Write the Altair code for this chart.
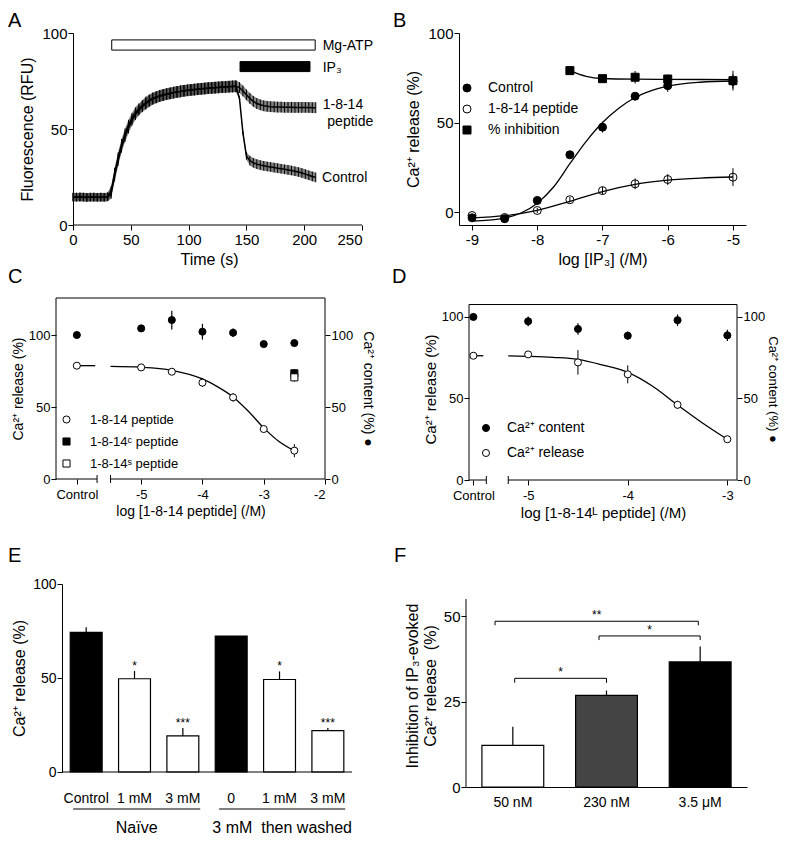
import altair as alt
import pandas as pd

FONT = "Liberation Sans"

# ---------------- Panel A data ----------------
a_time = list(range(0, 211, 3))
a_control = [14.6, 14.4, 14.7, 14.5, 14.3, 14.6, 14.5, 14.4, 14.6, 14.5, 14.7,
             17.5, 27.0, 35.0, 42.0, 47.5, 52.0, 55.5, 58.5, 60.5, 62.3,
             63.8, 65.0, 66.0, 66.7, 67.3, 67.8, 68.2, 68.6, 69.0, 69.3,
             69.6, 69.9, 70.1, 70.3, 70.5, 70.7, 70.9, 71.0, 71.2, 71.3,
             71.5, 71.6, 71.8, 71.9, 72.0, 72.1, 72.2,
             66.0, 48.0, 36.0, 33.5, 32.4, 31.7, 31.2, 30.8, 30.5, 30.2,
             29.9, 29.6, 29.3, 29.0, 28.7, 28.4, 28.0, 27.6, 27.1, 26.5,
             25.9, 25.3, 24.8]
a_peptide = [14.5, 14.6, 14.4, 14.6, 14.5, 14.4, 14.6, 14.5, 14.5, 14.4, 14.6,
             16.5, 25.5, 33.5, 40.5, 46.0, 50.5, 54.5, 57.5, 59.8, 61.6,
             63.2, 64.5, 65.6, 66.4, 67.1, 67.6, 68.1, 68.5, 68.9, 69.3,
             69.6, 69.9, 70.2, 70.4, 70.6, 70.8, 71.0, 71.2, 71.3, 71.5,
             71.6, 71.8, 71.9, 72.0, 72.1, 72.2, 72.3,
             71.6, 69.8, 67.8, 65.9, 64.4, 63.3, 62.6, 62.1, 61.8, 61.6,
             61.5, 61.4, 61.4, 61.3, 61.3, 61.3, 61.2, 61.2, 61.2, 61.2,
             61.2, 61.1, 61.1]
a_control_err = [2.2] * 11 + [2.8] * 10 + [3.0] * 27 + [1.0, 1.0, 2.0] + [2.5] * 20
a_peptide_err = [2.2] * 11 + [2.8] * 10 + [3.0] * 27 + [2.8] * 23
a_bar_start = [33.5, 144.5]
a_bar_end = [209.5, 205.0]
a_bar_low = [91.1, 79.9]
a_bar_high = [96.4, 85.1]
a_bar_fill = ["white", "black"]
a_label = ["Mg-ATP", "IP₃", "1-8-14", "peptide", "Control"]
a_label_x = [216, 216, 216, 220, 215.5]
a_label_y = [93.4, 81.8, 62.5, 53.5, 24.3]

# ---------------- Panel B data ----------------
b_series = ["Control", "1-8-14 peptide", "% inhibition"]
b_logc = [-9, -8.5, -8, -7.5, -7, -6.5, -6, -5]
b_control = [-3.2, -3.7, 6.5, 32.0, 47.4, 64.7, 70.6, 73.0]
b_control_err = [1.0, 1.0, 1.0, 1.5, 3.0, 2.0, 3.5, 4.0]
b_peptide = [-1.9, -3.0, 0.9, 6.9, 12.0, 15.8, 18.2, 19.5]
b_peptide_err = [1.0, 1.0, 1.5, 1.5, 2.0, 3.0, 3.0, 5.0]
b_inh_logc = [-7.5, -7, -6.5, -6, -5]
b_inhibition = [79.0, 74.5, 75.3, 74.3, 73.4]
b_inhibition_err = [1.0, 1.5, 3.5, 2.5, 5.5]
b_fit_control_x = [-9, -8.75, -8.5, -8.25, -8, -7.75, -7.5, -7.25, -7, -6.75, -6.5, -6.25, -6, -5.5, -5]
b_fit_control_y = [-5.0, -4.5, -3.3, -0.5, 5.0, 14.0, 27.0, 39.5, 50.0, 58.0, 64.0, 67.8, 70.3, 72.5, 73.2]
b_fit_peptide_x = [-9, -8.5, -8, -7.5, -7, -6.5, -6, -5.5, -5]
b_fit_peptide_y = [-3.2, -2.0, 1.0, 6.0, 11.5, 15.5, 17.8, 19.0, 19.6]
b_fit_inh_x = [-7.5, -7.25, -7, -6.5, -6, -5]
b_fit_inh_y = [79.0, 75.8, 74.6, 74.2, 74.1, 74.0]

# ---------------- Panel C data ----------------
c_series = ["1-8-14 peptide", "1-8-14ᶜ peptide", "1-8-14ˢ peptide"]
c_logc = [-6.05, -5, -4.5, -4, -3.5, -3, -2.5]
c_tick_values = [-6.05, -5, -4, -3, -2]
c_release = [78.7, 77.5, 74.5, 66.9, 56.7, 34.7, 19.7]
c_release_err = [1.0, 1.0, 1.0, 3.0, 3.0, 1.5, 4.5]
c_content = [100.0, 104.6, 110.4, 102.3, 101.6, 93.7, 94.4]
c_content_err = [1.0, 1.0, 6.5, 5.5, 3.0, 1.0, 1.0]
c_variant_logc = [-2.5, -2.5]
c_variant = [73.4, 70.6]
c_variant_err = [3.0, 3.0]
c_fit_x = [-5.5, -5, -4.5, -4, -3.75, -3.5, -3.25, -3, -2.75, -2.5]
c_fit_y = [78.2, 77.6, 75.5, 69.5, 64.0, 57.0, 47.0, 35.5, 26.0, 19.5]
c_stub_x = [-6.05, -5.75]
c_stub_y = [78.7, 78.7]
c_axis_segments = [(-6.39, -5.72), (-5.5, -2.0)]
c_breaks = [-5.72, -5.5]

# ---------------- Panel D data ----------------
d_series = ["Ca²⁺ content", "Ca²⁺ release"]
d_logc = [-5.55, -5, -4.5, -4, -3.5, -3]
d_tick_values = [-5.55, -5, -4, -3]
d_content = [100.0, 97.3, 92.6, 88.5, 98.0, 88.7]
d_content_err = [1.0, 3.0, 3.5, 2.5, 3.5, 3.5]
d_release = [76.2, 77.0, 72.1, 64.8, 46.1, 25.0]
d_release_err = [1.0, 1.0, 7.5, 5.5, 2.5, 1.0]
d_fit_x = [-5.2, -5, -4.75, -4.5, -4.25, -4, -3.75, -3.5, -3.25, -3]
d_fit_y = [76.1, 75.8, 75.2, 74.0, 70.5, 66.0, 57.5, 46.0, 35.0, 25.0]
d_stub_x = [-5.55, -5.45]
d_stub_y = [76.2, 76.2]
d_axis_segments = [(-5.594, -5.42), (-5.2, -2.903)]
d_breaks = [-5.42, -5.2]

# ---------------- Panel E data ----------------
e_cat = ["Control", "1 mM", "3 mM", "0", "1 mM ", "3 mM "]
e_value = [74.3, 49.6, 19.2, 72.3, 49.2, 22.0]
e_err = [2.7, 4.1, 4.2, 0.0, 4.3, 1.4]
e_fill = ["black", "white", "white", "black", "white", "white"]
e_star = ["", "*", "***", "", "*", "***"]
e_group = ["Naïve", "3 mM\u00a0 then washed"]
e_group_start = [0.23, 3.25]
e_group_end = [2.86, 5.86]

# ---------------- Panel F data ----------------
f_cat = ["50 nM", "230 nM", "3.5 μM"]
f_value = [12.2, 26.8, 36.6]
f_err = [5.4, 1.4, 4.5]
f_fill = ["white", "#444444", "black"]
f_br_start = [0.31, 1.42, 0.52]
f_br_end = [2.48, 2.5, 1.5]
f_br_level = [48.5, 44.2, 31.8]
f_br_leg = [1.2, 1.2, 1.3]
f_br_label = ["**", "*", "*"]


def letter(t, dx, dy):
    return alt.Chart(pd.DataFrame({"l": [t]})).mark_text(
        align="left", baseline="top", fontSize=20, font=FONT, color="black").encode(
        text="l:N", x=alt.value(dx), y=alt.value(dy))


# ================= Panel A =================
A_OFF = 17                      # y-axis sits inside the shared left-column origin
A_W, A_H = 306, 192
a_df = pd.DataFrame({
    "t": a_time + a_time,
    "v": a_control + a_peptide,
    "err": a_control_err + a_peptide_err,
    "trace": ["Control"] * len(a_time) + ["peptide"] * len(a_time),
})
a_df["lo"] = a_df["v"] - a_df["err"]
a_df["hi"] = a_df["v"] + a_df["err"]
a_xs = alt.Scale(domain=[-14.7, 250], nice=False)
a_ys = alt.Scale(domain=[0, 100], nice=False)
a_xax = alt.Axis(values=[0, 50, 100, 150, 200, 250], title="Time (s)", labelFontSize=15, titleFontSize=16,
                 domain=False, titlePadding=4)
a_yax = alt.Axis(values=[0, 50, 100], title="Fluorescence (RFU)", labelFontSize=15, titleFontSize=16,
                 offset=-A_OFF, labelPadding=1, titlePadding=6)
AX = lambda f: alt.X(f, scale=a_xs, axis=a_xax)
AY = lambda f: alt.Y(f, scale=a_ys, axis=a_yax)
a_base = alt.Chart(a_df)
a_band = a_base.mark_area(color="#333333", opacity=0.6).encode(x=AX("t:Q"), y=AY("lo:Q"), y2="hi:Q", detail="trace:N")
a_errs = a_base.mark_rule(color="black", strokeWidth=1).encode(x=AX("t:Q"), y=AY("lo:Q"), y2="hi:Q")
a_lines = a_base.mark_line(color="black", strokeWidth=1.5).encode(x=AX("t:Q"), y=AY("v:Q"), detail="trace:N")
a_axis_df = pd.DataFrame({"s": [0], "e": [250]})
a_xline = alt.Chart(a_axis_df).mark_rule(color="black", strokeWidth=1).encode(x=AX("s:Q"), x2="e:Q", y=alt.value(A_H))
a_bars_df = pd.DataFrame({"s": a_bar_start, "e": a_bar_end, "lo": a_bar_low, "hi": a_bar_high, "f": a_bar_fill})
a_bars = alt.Chart(a_bars_df).mark_rect(stroke="black", strokeWidth=1).encode(
    x=AX("s:Q"), x2="e:Q", y=AY("lo:Q"), y2="hi:Q", fill=alt.Fill("f:N", scale=None))
a_text_df = pd.DataFrame({"x": a_label_x, "y": a_label_y, "label": a_label})
a_text = alt.Chart(a_text_df).mark_text(align="left", baseline="middle", fontSize=14, font=FONT, color="black").encode(
    x=AX("x:Q"), y=AY("y:Q"), text="label:N")
panelA = alt.layer(a_band, a_errs, a_lines, a_xline, a_bars, a_text, letter("A", -48, -22)).properties(
    width=A_W, height=A_H)

# ================= Panel B =================
B_W, B_H = 287, 192
b_pts = pd.DataFrame({
    "x": b_logc + b_logc + b_inh_logc,
    "y": b_control + b_peptide + b_inhibition,
    "err": b_control_err + b_peptide_err + b_inhibition_err,
    "series": [b_series[0]] * len(b_logc) + [b_series[1]] * len(b_logc) + [b_series[2]] * len(b_inh_logc),
})
b_pts["lo"] = b_pts["y"] - b_pts["err"]
b_pts["hi"] = b_pts["y"] + b_pts["err"]
b_fit = pd.DataFrame({
    "x": b_fit_control_x + b_fit_peptide_x + b_fit_inh_x,
    "y": b_fit_control_y + b_fit_peptide_y + b_fit_inh_y,
    "curve": ["c"] * len(b_fit_control_x) + ["p"] * len(b_fit_peptide_x) + ["i"] * len(b_fit_inh_x),
})
b_xs = alt.Scale(domain=[-9.2, -4.8], nice=False)
b_ys = alt.Scale(domain=[-7.2, 100], nice=False)
b_xax = alt.Axis(values=[-9, -8, -7, -6, -5], labelExpr="'' + datum.value", title="log [IP₃] (/M)",
                 labelFontSize=15, titleFontSize=16, titlePadding=4)
b_yax = alt.Axis(values=[0, 50, 100], title="Ca²⁺ release (%)", labelFontSize=15, titleFontSize=16,
                 labelPadding=1, titlePadding=6)
BX = lambda f: alt.X(f, scale=b_xs, axis=b_xax)
BY = lambda f: alt.Y(f, scale=b_ys, axis=b_yax)
b_leg = alt.Legend(title=None, orient="none", legendX=1, legendY=48, labelFont=FONT, labelFontSize=14,
                   labelColor="black", symbolStrokeWidth=1, symbolSize=64,
                   rowPadding=7, labelOffset=14, padding=0)
b_errs = alt.Chart(b_pts).mark_rule(color="black", strokeWidth=1).encode(x=BX("x:Q"), y=BY("lo:Q"), y2="hi:Q")
b_lines = alt.Chart(b_fit).mark_line(color="black", strokeWidth=1.3, interpolate="monotone").encode(
    x=BX("x:Q"), y=BY("y:Q"), detail="curve:N")
b_points = alt.Chart(b_pts).mark_point(filled=True, strokeWidth=1, opacity=1, size=64).encode(
    x=BX("x:Q"), y=BY("y:Q"),
    fill=alt.Fill("series:N", scale=alt.Scale(domain=b_series, range=["black", "transparent", "black"]), legend=b_leg),
    stroke=alt.Stroke("series:N", scale=alt.Scale(domain=b_series, range=["black", "black", "black"]), legend=b_leg),
    shape=alt.Shape("series:N", scale=alt.Scale(domain=b_series, range=["circle", "circle", "square"]), legend=b_leg))
panelB = alt.layer(b_errs, b_lines, b_points, letter("B", -66, -22)).properties(width=B_W, height=B_H)


# ================= Panels C, D (dual axis, broken x) =================
def dual_panel(name, W, H, xdom, ytop, frame_top, ticks, ctrl_thr, series, fills, shapes,
               rel_x, rel_y, rel_e, con_x, con_y, con_e, extra, fit_x, fit_y, stub_x, stub_y,
               segments, breaks, leg_x, leg_y, leg_row, leg_size, lab_size, leg_off, tick_size, title_size,
               rtitle_size, rtitle_pad, xtitle, ldx, ldy):
    xs = alt.Scale(domain=xdom, nice=False)
    ys = alt.Scale(domain=[0, ytop], nice=False)
    xax = alt.Axis(values=ticks, labelExpr=f"datum.value < {ctrl_thr} ? 'Control' : '' + datum.value",
                   domain=False, title=xtitle, labelFontSize=tick_size, titleFontSize=title_size,
                   labelPadding=4, titlePadding=3)
    yax = alt.Axis(values=[0, 50, 100], domain=False, title="Ca²⁺ release (%)",
                   labelFontSize=tick_size, titleFontSize=title_size, labelPadding=1, titlePadding=3)
    yax_r = alt.Axis(values=[0, 50, 100], domain=False, orient="right", title="Ca²⁺ content (%) ●",
                     labelFontSize=tick_size, titleFontSize=rtitle_size, labelPadding=1, titlePadding=rtitle_pad)
    leg = alt.Legend(title=None, orient="none", legendX=leg_x, legendY=leg_y, labelFont=FONT,
                     labelFontSize=lab_size, labelColor="black",
                     symbolStrokeWidth=1, symbolSize=leg_size, rowPadding=leg_row, labelOffset=leg_off, padding=0)
    fill = alt.Fill("series:N", scale=alt.Scale(domain=series, range=fills), legend=leg)
    stroke = alt.Stroke("series:N", scale=alt.Scale(domain=series, range=["black"] * len(series)), legend=leg)
    shape = alt.Shape("series:N", scale=alt.Scale(domain=series, range=shapes), legend=leg)

    rel = pd.DataFrame({"x": rel_x + extra[0], "y": rel_y + extra[1], "err": rel_e + extra[2],
                        "series": extra[3]})
    rel["lo"] = rel["y"] - rel["err"]
    rel["hi"] = rel["y"] + rel["err"]
    con = pd.DataFrame({"x": con_x, "y": con_y, "err": con_e,
                        "series": [series[0] if name == "D" else "content"] * len(con_x)})
    con["lo"] = con["y"] - con["err"]
    con["hi"] = con["y"] + con["err"]
    fit = pd.DataFrame({"x": fit_x + stub_x, "y": fit_y + stub_y,
                        "curve": ["fit"] * len(fit_x) + ["stub"] * len(stub_x)})
    seg = pd.DataFrame({"s": [a for a, b in segments], "e": [b for a, b in segments]})
    brk = pd.DataFrame({"b": breaks})
    frame = pd.DataFrame({"lo": [0], "hi": [frame_top]})

    X = lambda f: alt.X(f, scale=xs, axis=xax)
    Y = lambda f: alt.Y(f, scale=ys, axis=yax)
    YR = lambda f: alt.Y(f, scale=ys, axis=yax_r)

    left_layers = [
        alt.Chart(frame).mark_rule(color="black", strokeWidth=1).encode(x=alt.value(0), y=Y("lo:Q"), y2="hi:Q"),
        alt.Chart(frame).mark_rule(color="black", strokeWidth=1).encode(x=alt.value(W), y=Y("lo:Q"), y2="hi:Q"),
        alt.Chart(frame).mark_rule(color="black", strokeWidth=1).encode(x=alt.value(0), x2=alt.value(W), y=Y("hi:Q")),
        alt.Chart(seg).mark_rule(color="black", strokeWidth=1).encode(x=X("s:Q"), x2="e:Q", y=alt.value(H)),
        alt.Chart(brk).mark_rule(color="black", strokeWidth=1).encode(x=X("b:Q"), y=alt.value(H - 4), y2=alt.value(H + 4)),
        alt.Chart(rel).mark_rule(color="black", strokeWidth=1).encode(x=X("x:Q"), y=Y("lo:Q"), y2="hi:Q"),
        alt.Chart(fit).mark_line(color="black", strokeWidth=1.3, interpolate="monotone").encode(
            x=X("x:Q"), y=Y("y:Q"), detail="curve:N"),
        alt.Chart(rel).mark_point(filled=True, strokeWidth=1, opacity=1, size=leg_size).encode(
            x=X("x:Q"), y=Y("y:Q"), fill=fill, stroke=stroke, shape=shape),
        letter(name, ldx, ldy),
    ]
    left = alt.layer(*left_layers)
    con_err = alt.Chart(con).mark_rule(color="black", strokeWidth=1.2).encode(x=X("x:Q"), y=YR("lo:Q"), y2="hi:Q")
    if name == "D":
        con_pts = alt.Chart(con).mark_point(filled=True, strokeWidth=1, opacity=1, size=leg_size).encode(
            x=X("x:Q"), y=YR("y:Q"), fill=fill, stroke=stroke, shape=shape)
    else:
        con_pts = alt.Chart(con).mark_point(filled=True, shape="circle", fill="black", stroke="black",
                                            strokeWidth=1, opacity=1, size=leg_size).encode(
            x=X("x:Q"), y=YR("y:Q"))
    right = alt.layer(con_err, con_pts)
    return alt.layer(left, right).resolve_scale(y="independent").properties(width=W, height=H)


C_W, C_H = 269, 181
panelC = dual_panel(
    "C", C_W, C_H, [-6.39, -2.0], 125.7, 125.7, c_tick_values, -5.5, c_series,
    ["white", "black", "white"], ["circle", "square", "square"],
    c_logc, c_release, c_release_err, c_logc, c_content, c_content_err,
    (c_variant_logc, c_variant, c_variant_err,
     [c_series[0]] * len(c_logc) + [c_series[1], c_series[2]]),
    c_fit_x, c_fit_y, c_stub_x, c_stub_y, c_axis_segments, c_breaks,
    4, 115, 8, 50, 13, 17, 13, 14, 14, 8, "log [1-8-14 peptide] (/M)", -48, -31)

D_W, D_H = 268, 182
panelD = dual_panel(
    "D", D_W, D_H, [-5.594, -2.903], 111.6, 107.6, d_tick_values, -5.3, d_series,
    ["black", "white"], ["circle", "circle"],
    d_logc, d_release, d_release_err, d_logc, d_content, d_content_err,
    ([], [], [], [d_series[1]] * len(d_logc)),
    d_fit_x, d_fit_y, d_stub_x, d_stub_y, d_axis_segments, d_breaks,
    10, 123, 11, 50, 14, 14, 13, 15, 13, 1, "log [1-8-14ᴸ peptide] (/M)", -77, -31)

# ================= Panel E =================
E_OFF = 6
E_W, E_H = 296, 188
e_df = pd.DataFrame({"cat": e_cat, "val": e_value, "err": e_err, "fill": e_fill, "star": e_star})
e_df["hi"] = e_df["val"] + e_df["err"]
e_xs = alt.Scale(domain=e_cat, paddingInner=0.34, paddingOuter=0.2317, align=0.635)
e_ys = alt.Scale(domain=[0, 100], nice=False)
e_xax = alt.Axis(title=None, labelAngle=0, ticks=False, tickSize=0, labelPadding=19, labelFontSize=14, domain=False)
e_yax = alt.Axis(values=[0, 50, 100], title="Ca²⁺ release (%)", labelFontSize=14, titleFontSize=16,
                 offset=-E_OFF, labelPadding=1, titlePadding=5)
e_X = alt.X("cat:N", sort=e_cat, scale=e_xs, axis=e_xax)
EY = lambda f: alt.Y(f, scale=e_ys, axis=e_yax)
e_bars = alt.Chart(e_df).mark_bar(stroke="black", strokeWidth=1.2).encode(
    x=e_X, y=EY("val:Q"), fill=alt.Fill("fill:N", scale=None))
e_errs = alt.Chart(e_df).mark_rule(color="black", strokeWidth=1.2).encode(x=e_X, y=EY("val:Q"), y2="hi:Q")
e_stars = alt.Chart(e_df).mark_text(fontSize=12, font=FONT, color="black", baseline="alphabetic", dy=-1).encode(
    x=e_X, y=EY("hi:Q"), text="star:N")
e_grp = pd.DataFrame({"s": e_group_start, "e": e_group_end, "g": e_group})
e_grp["m"] = (e_grp["s"] + e_grp["e"]) / 2
e_gx = alt.Scale(domain=[-E_OFF / 48.33, 6], nice=False)
e_axis_df = pd.DataFrame({"s": [0], "e": [6]})
e_xline = alt.Chart(e_axis_df).mark_rule(color="black", strokeWidth=1).encode(
    x=alt.X("s:Q", scale=e_gx, axis=None), x2="e:Q", y=alt.value(E_H))
e_glines = alt.Chart(e_grp).mark_rule(color="black", strokeWidth=1.2).encode(
    x=alt.X("s:Q", scale=e_gx, axis=None), x2="e:Q", y=alt.value(E_H + 37))
e_gtext = alt.Chart(e_grp).mark_text(fontSize=16, font=FONT, color="black", baseline="middle").encode(
    x=alt.X("m:Q", scale=e_gx, axis=None), y=alt.value(E_H + 56), text="g:N")
panelE = alt.layer(alt.layer(e_errs, e_bars, e_stars),
                   alt.layer(e_xline, e_glines, e_gtext, letter("E", -48, -38))).resolve_scale(
    x="independent").properties(width=E_W, height=E_H)

# ================= Panel F =================
F_W, F_H = 281, 203
f_df = pd.DataFrame({"cat": f_cat, "val": f_value, "err": f_err, "fill": f_fill})
f_df["hi"] = f_df["val"] + f_df["err"]
f_xs = alt.Scale(domain=f_cat, paddingInner=0.34, paddingOuter=0.17)
f_ys = alt.Scale(domain=[0, 59.4], nice=False)
f_xax = alt.Axis(title=None, labelAngle=0, ticks=False, tickSize=0, labelPadding=8, labelFontSize=14)
f_yax = alt.Axis(values=[0, 25, 50], domain=False, title=["Inhibition of IP₃-evoked", "Ca²⁺ release\u00a0 (%)"],
                 labelFontSize=15, titleFontSize=16, labelPadding=1, titlePadding=5)
f_X = alt.X("cat:N", sort=f_cat, scale=f_xs, axis=f_xax)
FY = lambda f: alt.Y(f, scale=f_ys, axis=f_yax)
f_axisline = pd.DataFrame({"lo": [0], "hi": [55]})
f_yline = alt.Chart(f_axisline).mark_rule(color="black", strokeWidth=1).encode(x=alt.value(0), y=FY("lo:Q"), y2="hi:Q")
f_bars = alt.Chart(f_df).mark_bar(stroke="black", strokeWidth=1.2).encode(
    x=f_X, y=FY("val:Q"), fill=alt.Fill("fill:N", scale=None))
f_errs = alt.Chart(f_df).mark_rule(color="black", strokeWidth=1.2).encode(x=f_X, y=FY("val:Q"), y2="hi:Q")
f_br = pd.DataFrame({"s": f_br_start, "e": f_br_end, "lvl": f_br_level, "leg": f_br_leg, "lab": f_br_label})
f_br["low"] = f_br["lvl"] - f_br["leg"]
f_br["m"] = (f_br["s"] + f_br["e"]) / 2
f_bx = alt.Scale(domain=[0, 3], nice=False)
f_hline = alt.Chart(f_br).mark_rule(color="black", strokeWidth=1).encode(
    x=alt.X("s:Q", scale=f_bx, axis=None), x2="e:Q", y=FY("lvl:Q"))
f_leg1 = alt.Chart(f_br).mark_rule(color="black", strokeWidth=1).encode(
    x=alt.X("s:Q", scale=f_bx, axis=None), y=FY("lvl:Q"), y2="low:Q")
f_leg2 = alt.Chart(f_br).mark_rule(color="black", strokeWidth=1).encode(
    x=alt.X("e:Q", scale=f_bx, axis=None), y=FY("lvl:Q"), y2="low:Q")
f_lab = alt.Chart(f_br).mark_text(fontSize=12, font=FONT, color="black", baseline="alphabetic", dy=-2).encode(
    x=alt.X("m:Q", scale=f_bx, axis=None), y=FY("lvl:Q"), text="lab:N")
panelF = alt.layer(alt.layer(f_yline, f_errs, f_bars),
                   alt.layer(f_hline, f_leg1, f_leg2, f_lab, letter("F", -72, -38))).resolve_scale(
    x="independent").properties(width=F_W, height=F_H)

# ================= Assemble =================
ind = dict(fill="independent", shape="independent", stroke="independent")
row1 = alt.hconcat(panelA, panelB, spacing=19).resolve_scale(**ind)
row2 = alt.hconcat(panelC, panelD, spacing=17).resolve_scale(**ind)
row3 = alt.hconcat(panelE, panelF, spacing=41).resolve_scale(**ind)
top_rows = alt.vconcat(row1, row2, spacing=0).resolve_scale(**ind)
chart = alt.vconcat(top_rows, row3, spacing=26).resolve_scale(**ind).properties(
    padding={"left": 0, "top": 3, "right": 3, "bottom": 0}
).configure_view(stroke=None).configure_axis(
    labelFont=FONT, titleFont=FONT, labelColor="black", titleColor="black",
    domainColor="black", tickColor="black", titleFontWeight="normal", grid=False,
    tickSize=5, labelPadding=2, titlePadding=5, domainWidth=1, tickWidth=1
)

chart.save("out.html", embed_options={"renderer": "svg", "actions": False})
